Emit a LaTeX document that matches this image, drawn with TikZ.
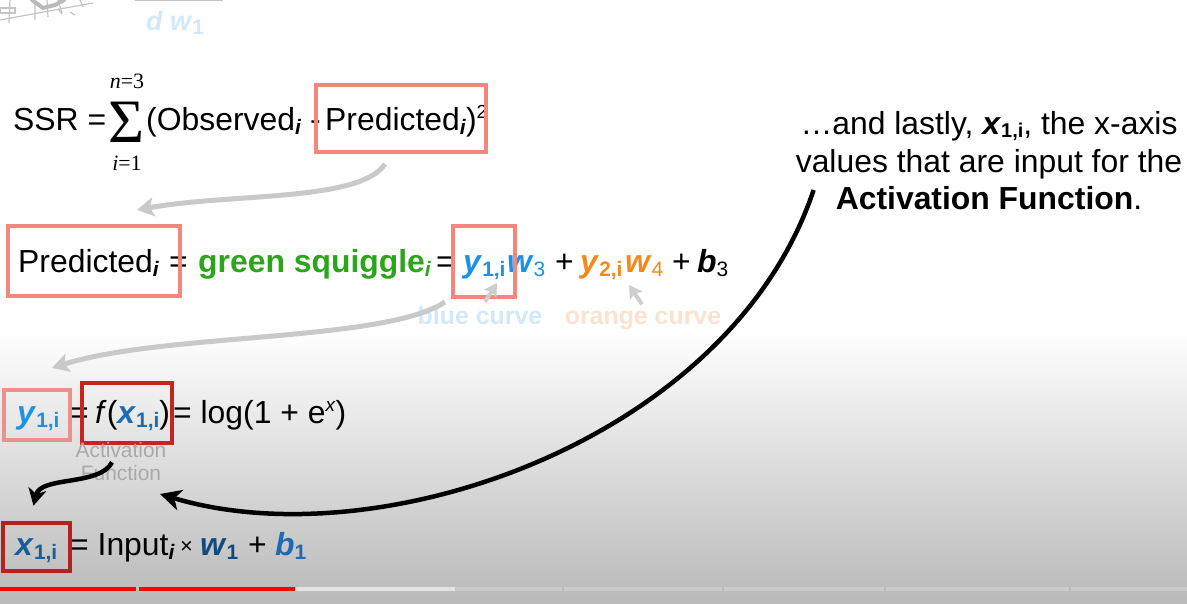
\documentclass[tikz,border=0pt]{standalone}
\usepackage{fontspec}
\setmainfont{Liberation Sans}
\newfontfamily\serifrm{Liberation Serif}
\usetikzlibrary{arrows.meta}
\definecolor{salmon}{HTML}{F3877D}
\definecolor{salmonlt}{HTML}{EA918B}
\definecolor{darkred}{HTML}{C4261C}
\definecolor{darkred2}{HTML}{B52219}
\definecolor{sqgreen}{HTML}{2BA51A}
\definecolor{yblue}{HTML}{1B92E6}
\definecolor{yorange}{HTML}{F28A1A}
\definecolor{xblue}{HTML}{1C6CB3}
\definecolor{xdblue}{HTML}{1A5C99}
\definecolor{wblue}{HTML}{12497E}
\definecolor{bblue}{HTML}{1D6AB0}
\definecolor{faintblue}{HTML}{D2E8FB}
\definecolor{faintorange}{HTML}{FBE3D1}
\definecolor{arrgray}{HTML}{C9C9C9}
\definecolor{labgray}{HTML}{A9A9A9}
\definecolor{bggray}{HTML}{B9B9B9}
\definecolor{sketchgray}{HTML}{C4C4C4}
\definecolor{barred}{HTML}{FF0000}
\definecolor{barlight}{HTML}{E3E3E3}
\definecolor{barseg}{HTML}{CACACA}
\newcommand\bi[1]{\textbf{\textit{#1}}}
\newcommand\subs[1]{\raisebox{-4bp}{\fontsize{21}{21}\selectfont #1}}
\newcommand\subr[1]{\raisebox{-3bp}{\fontsize{20}{20}\selectfont #1}}
\newcommand\sups[1]{\raisebox{12bp}{\fontsize{19}{19}\selectfont #1}}
\tikzset{
  eq/.style={font=\fontsize{32}{38}\selectfont, inner sep=0pt, anchor=base west},
  rt/.style={font=\fontsize{32}{38}\selectfont, inner sep=0pt, anchor=base},
  lim/.style={font=\serifrm\fontsize{22}{22}\selectfont, inner sep=0pt, anchor=base},
  hbox/.style={draw=#1, line width=4bp, inner sep=0pt},
  grayarr/.style={draw=arrgray, line width=5bp, -{Stealth[length=17bp,width=19bp,inset=4bp]}},
  blackarr/.style={draw=black, line width=4.5bp, -{Stealth[length=21bp,width=21bp,inset=6bp]}},
  faint/.style={font=\bfseries\fontsize{25}{25}\selectfont, inner sep=0pt, anchor=base},
}
\begin{document}
\begin{tikzpicture}[x=1bp,y=-1bp]
\useasboundingbox (0,0) rectangle (1187,604);
% background
\fill[white] (0,0) rectangle (1187,330);
\shade[top color=white, bottom color=bggray] (0,330) rectangle (1187,604);
% top-left sketch fragment
\draw[sketchgray, line width=1.2bp] (0,20) -- (93,3);
\draw[sketchgray, line width=1.2bp] (10,0) -- (9,23) (35,0) -- (35,20) (47,0) -- (48,17) (58,0) -- (62,13) (80,0) -- (83,7);
\draw[sketchgray, line width=1.2bp] (0,8) rectangle (15,13);
\draw[labgray!80, line width=4bp, line cap=round] (32,0) -- (43,8) -- (55,5) -- (64,0);
\draw[sketchgray, line width=1.2bp] (58,9) -- (62,14) (70,12) -- (75,15);
% top fraction fragment
\draw[sketchgray, line width=1.5bp] (135,0.7) -- (223,0.7);
\node[anchor=base west, inner sep=0pt, font=\fontsize{27}{27}\selectfont, text=faintblue] (dw) at (146,31) {\bi{d w}\subs{\textbf{1}}};

% row 1
\node[eq] (ssr) at (13,131) {SSR =};
\node[anchor=base, inner sep=0pt, text height=41bp, text depth=0bp, font=\serifrm\fontsize{62}{62}\selectfont] (sig) at (126,143) {Σ};
\node[lim] (up) at (127,89) {\textit{n}=3};
\node[lim] (lo) at (127,171) {\textit{i}=1};
\node[eq] (obs) at (146,131) {(Observed\subs{\bi{i}} -};
\node[eq] (pr1) at (325,131) {Predicted\subs{\bi{i}})\sups{2}};
\node[hbox=salmon, minimum width=170bp, minimum height=67bp] (b1) at (401,118.5) {};

% row 2
\node[eq] (pr2) at (18,273) {Predicted\subs{\bi{i}}};
\node[eq] (eq2a) at (169,273) {=};
\node[eq, text=sqgreen] (gs) at (198,273) {\textbf{green squiggle}\subs{\bi{i}}};
\node[eq] (eq2b) at (436,273) {=};
\node[eq, text=yblue] (y1) at (463,273) {\bi{y}\subs{\textbf{1,i}}};
\node[eq, text=yblue] (w3) at (507,273) {\bi{w}\subs{3}};
\node[eq] (pl2a) at (555,273) {+};
\node[eq, text=yorange] (y2) at (580,273) {\bi{y}\subs{\textbf{2,i}}};
\node[eq, text=yorange] (w4) at (625,273) {\bi{w}\subs{4}};
\node[eq] (pl2b) at (672,273) {+};
\node[eq] (b3t) at (697,273) {\bi{b}\subs{3}};
\node[hbox=salmon, minimum width=172bp, minimum height=70bp] (b2) at (94,261) {};
\node[hbox=salmon, minimum width=62bp, minimum height=71bp] (b3) at (484,261.5) {};
\node[faint, text=faintblue] (bc) at (480,325) {blue curve};
\node[faint, text=faintorange] (oc) at (643,325) {orange curve};

% row 3
\node[eq, text=yblue] (y1b) at (17,423) {\bi{y}\subs{\textbf{1,i}}};
\node[eq] (eq3a) at (70,423) {=};
\node[eq] (fx) at (95,423) {\textit{f}(\textcolor{xblue}{\bi{x}\subs{\textbf{1,i}}})};
\node[eq] (lg) at (173,423) {= log(1 + e\sups{\textit{x}})};
\node[hbox=salmonlt, minimum width=66bp, minimum height=50bp] (b4) at (37,415) {};
\node[hbox=darkred, line width=4.5bp, minimum width=90bp, minimum height=60bp] (b5) at (127,413) {};
\node[anchor=base, inner sep=0pt, font=\fontsize{21}{21}\selectfont, text=labgray] (act1) at (121,457) {Activation};
\node[anchor=base, inner sep=0pt, font=\fontsize{21}{21}\selectfont, text=labgray] (act2) at (121,480) {Function};

% row 4
\node[eq, text=xdblue] (x1) at (15,555) {\bi{x}\subs{\textbf{1,i}}};
\node[eq] (inp) at (70,555) {= Input\subs{\bi{i}}};
\node[eq, font=\fontsize{22}{22}\selectfont] (times) at (180,553) {×};
\node[eq, text=wblue] (w1) at (200,555) {\bi{w}\subs{\textbf{1}}};
\node[eq] (pl4) at (248,555) {+};
\node[eq, text=bblue] (b1t) at (275,555) {\bi{b}\subs{\textbf{1}}};
\node[hbox=darkred2, line width=4.5bp, minimum width=67bp, minimum height=48bp] (b6) at (36.5,547) {};

% right text
\node[rt] (rt1) at (989,135) {…and lastly, \bi{x}\subr{\textbf{1,i}}, the x-axis};
\node[rt] (rt2) at (989,172.5) {values that are input for the};
\node[rt] (rt3) at (989,210) {\textbf{Activation Function}.};

% connectors
\coordinate (g1s) at ([xshift=-16bp,yshift=-10bp]b1.south);
\coordinate (g1e) at ([xshift=43bp,yshift=14bp]b2.north);
\draw[grayarr] (g1s) .. controls +(-25,38) and +(93,-17) .. (g1e);
\coordinate (g2s) at ([xshift=-39bp,yshift=-3bp]b3.south);
\coordinate (g2e) at ([xshift=15bp,yshift=20bp]b4.north);
\draw[grayarr] (g2s) .. controls +(-60,40) and +(110,-35) .. (g2e);
\coordinate (ga1s) at ([xshift=5bp,yshift=5bp]bc.north);
\coordinate (ga1e) at ([xshift=13bp,yshift=16bp]b3.south);
\draw[draw=arrgray!90, line width=4bp, -{Stealth[length=13bp,width=15bp,inset=3bp]}] (ga1s) -- (ga1e);
\coordinate (ga2s) at ([xshift=-1bp,yshift=7bp]oc.north);
\coordinate (ga2e) at ([xshift=4bp,yshift=-12bp]w4.base west);
\draw[draw=arrgray!90, line width=4bp, -{Stealth[length=13bp,width=15bp,inset=3bp]}] (ga2s) -- (ga2e);
\coordinate (k1s) at ([xshift=-15bp,yshift=-17bp]b5.south);
\coordinate (k1e) at ([xshift=-3bp,yshift=15bp]b6.north);
\draw[blackarr, -{Stealth[length=17bp,width=18bp,inset=5bp]}] (k1s) .. controls +(-12,24) and +(7,-30) .. (k1e);
\coordinate (bs) at ([xshift=-22bp,yshift=20bp]rt3.base west);
\coordinate (be) at (160,494);
\draw[blackarr] (bs) .. controls (730,440) and (380,560) .. (be);

% progress bar
\fill[barred] (0,587) rectangle (136,590.5);
\fill[barred] (139,587) rectangle (295,590.5);
\fill[barlight] (295,587) rectangle (455,590.5);
\fill[barseg] (455,587) rectangle (562,590.5);
\fill[barseg] (564,587) rectangle (722,590.5);
\fill[barseg] (724,587) rectangle (884,590.5);
\fill[barseg] (886,587) rectangle (1069,590.5);
\fill[barseg] (1071,587) rectangle (1187,590.5);
\end{tikzpicture}
\end{document}
